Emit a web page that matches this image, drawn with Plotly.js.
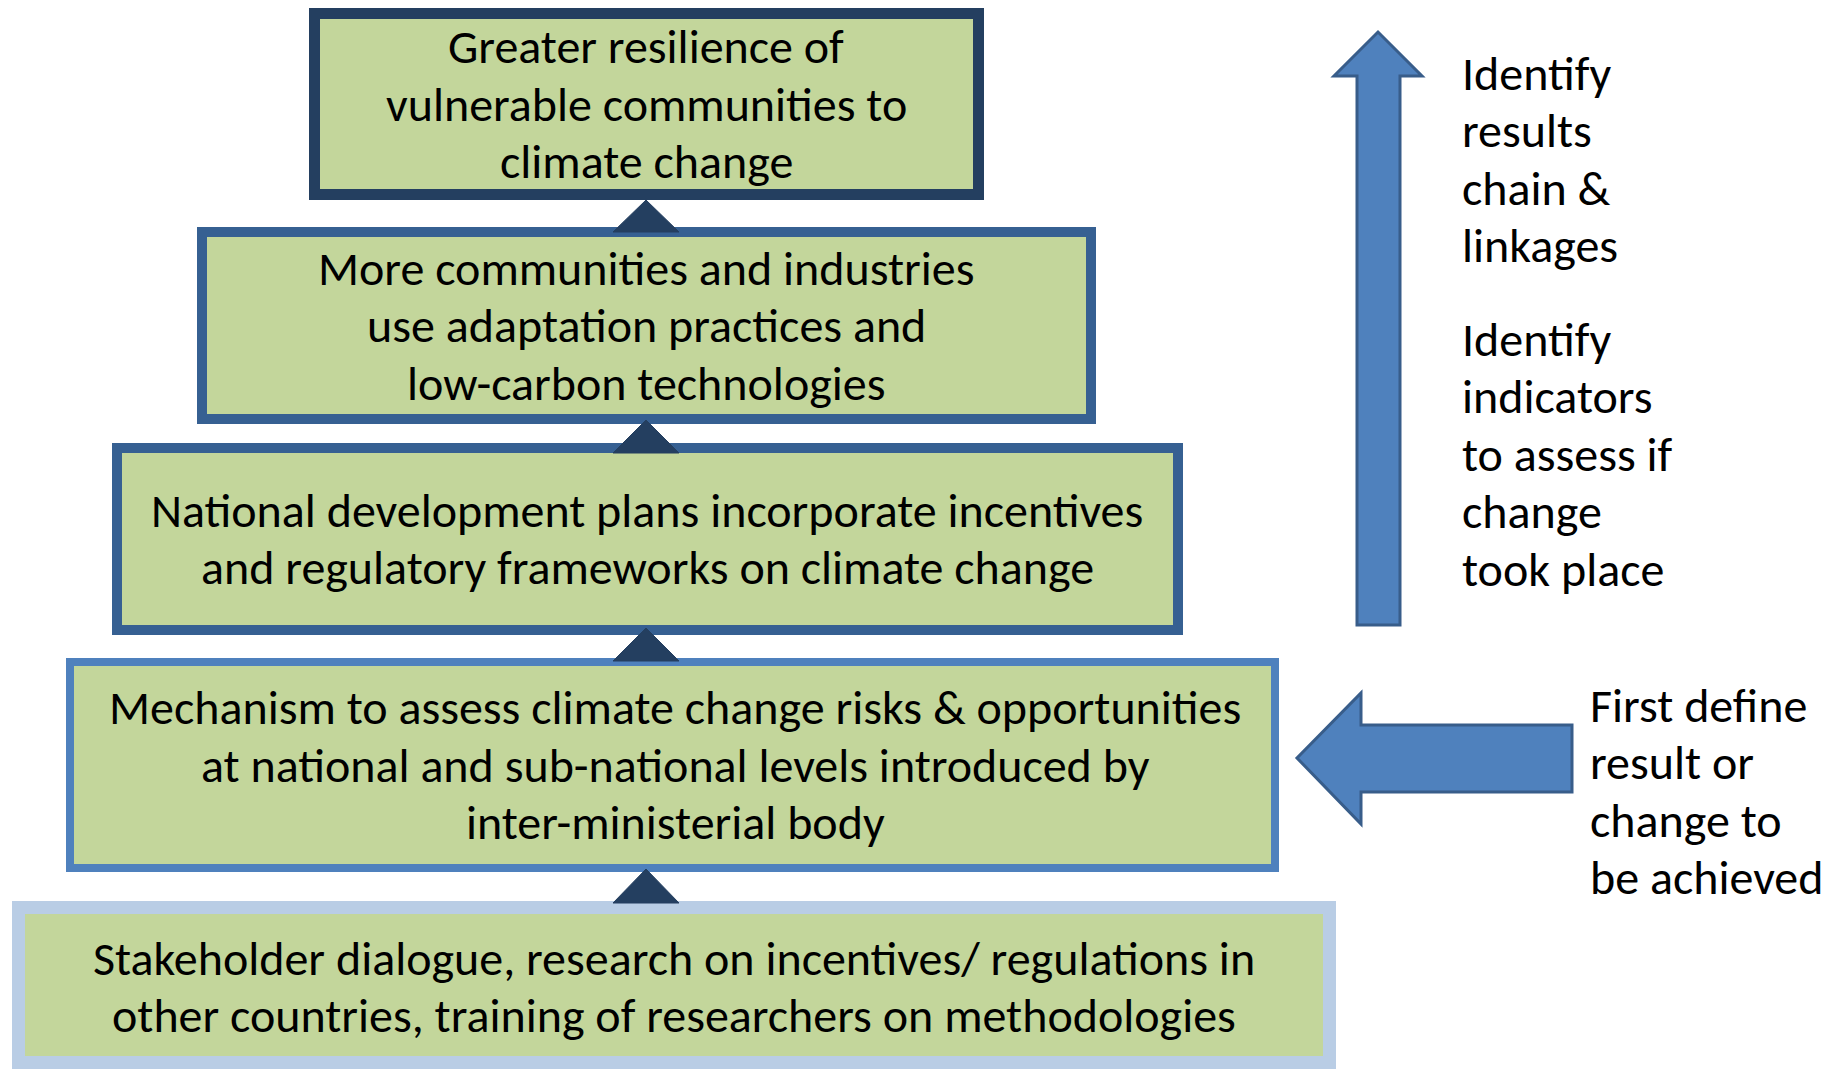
<!DOCTYPE html>
<html>
<head>
<meta charset="utf-8">
<script src="https://cdn.plot.ly/plotly-3.0.1.min.js"></script>
<style>html,body{margin:0;padding:0;background:#fff;}#chart{width:1841px;height:1069px;}</style>
</head>
<body>
<div id="chart"></div>
<script>
// ---- content ----
const boxLabels = [
  ["Greater resilience of", "vulnerable communities to", "climate change"],
  ["More communities and industries", "use adaptation practices and", "low-carbon technologies"],
  ["National development plans incorporate incentives", "and regulatory frameworks on climate change"],
  ["Mechanism to assess climate change risks & opportunities", "at national and sub-national levels introduced by", "inter-ministerial body"],
  ["Stakeholder dialogue, research on incentives/ regulations in", "other countries, training of researchers on methodologies"]
];
const upNoteA = ["Identify", "results", "chain &", "linkages"];
const upNoteB = ["Identify", "indicators", "to assess if", "change", "took place"];
const leftNote = ["First define", "result or", "change to", "be achieved"];

// ---- geometry (pixel coordinates on a 1841x1069 canvas) ----
const boxRects = [[309, 8, 984, 200], [197, 227, 1096, 424], [112, 443, 1183, 635], [66, 658, 1279, 872], [12, 901, 1336, 1069]];
const boxBorderW = [11, 10, 10, 8, 13];
const boxBorderC = ["#243F60", "#366092", "#366092", "#4F81BD", "#B9CDE5"];
const boxTextCY = [104, 325.5, 539, 765, 987];
const boxTextCX = [646, 646, 647, 675, 674];
const triApex = [200, 420, 628, 869];
const triBase = [232, 453, 661, 903];
const triCX = 646, triHalf = 33;
const lineGap = 57.5;
const fontSize = 48;
const FONT = "Carlito, Calibri, Lato, sans-serif";
const GREEN = "#C3D69B";

const shapes = [];
const annotations = [];

boxRects.forEach((r, i) => {
  const h = boxBorderW[i] / 2;
  shapes.push({type: "rect", xref: "x", yref: "y", x0: r[0] + h, y0: r[1] + h, x1: r[2] - h, y1: r[3] - h,
    fillcolor: GREEN, line: {color: boxBorderC[i], width: boxBorderW[i]}, layer: "above"});
  const n = boxLabels[i].length;
  boxLabels[i].forEach((t, j) => {
    annotations.push({xref: "x", yref: "y", x: boxTextCX[i], y: boxTextCY[i] + (j - (n - 1) / 2) * lineGap,
      text: t, showarrow: false, xanchor: "center", yanchor: "middle",
      font: {family: FONT, size: fontSize, color: "#000"}});
  });
});

triApex.forEach((a, i) => {
  const b = triBase[i];
  shapes.push({type: "path", xref: "x", yref: "y",
    path: `M ${triCX - triHalf},${b} L ${triCX},${a} L ${triCX + triHalf},${b} Z`,
    fillcolor: "#243F60", line: {color: "#243F60", width: 1}, layer: "above"});
});

// arrows
shapes.push({type: "path", xref: "x", yref: "y",
  path: "M 1357,625 L 1357,76 L 1334,76 L 1378,32 L 1422,76 L 1400,76 L 1400,625 Z",
  fillcolor: "#4F81BD", line: {color: "#385D8A", width: 3}, layer: "above"});
shapes.push({type: "path", xref: "x", yref: "y",
  path: "M 1572,725 L 1361,725 L 1361,693 L 1297,758 L 1361,824 L 1361,792 L 1572,792 Z",
  fillcolor: "#4F81BD", line: {color: "#385D8A", width: 3}, layer: "above"});

function sideText(lines, x, y0) {
  lines.forEach((t, j) => {
    annotations.push({xref: "x", yref: "y", x: x, y: y0 + j * lineGap, text: t, showarrow: false,
      xanchor: "left", yanchor: "middle", font: {family: FONT, size: fontSize, color: "#000"}});
  });
}
sideText(upNoteA, 1460, 73);
sideText(upNoteB, 1460, 339);
sideText(leftNote, 1588, 705);

const layout = {
  width: 1841, height: 1069,
  margin: {l: 0, r: 0, t: 0, b: 0},
  paper_bgcolor: "#ffffff", plot_bgcolor: "#ffffff",
  xaxis: {range: [0, 1841], visible: false, fixedrange: true},
  yaxis: {range: [1069, 0], visible: false, fixedrange: true},
  showlegend: false,
  shapes: shapes,
  annotations: annotations
};
Plotly.newPlot("chart", [{x: [], y: [], type: "scatter"}], layout, {staticPlot: true, displayModeBar: false});
</script>
</body>
</html>
